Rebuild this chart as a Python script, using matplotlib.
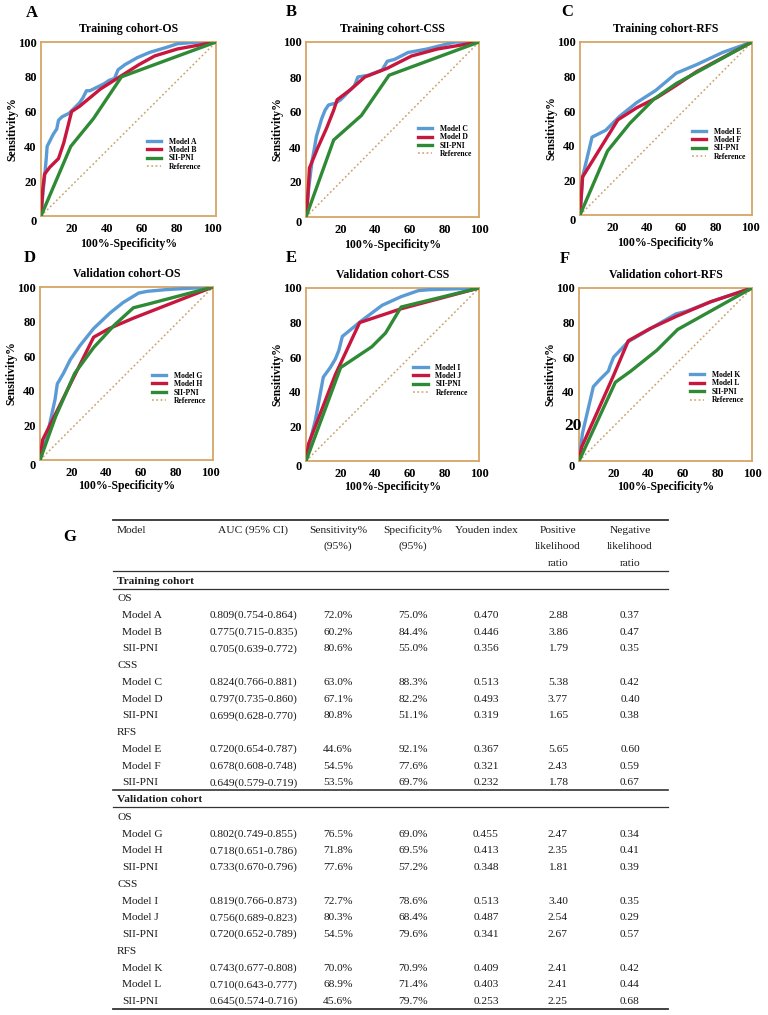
import matplotlib
matplotlib.use('Agg')
import matplotlib.pyplot as plt
from matplotlib.lines import Line2D
from matplotlib.transforms import ScaledTranslation, blended_transform_factory

plt.rcParams['font.family'] = ['Liberation Serif', 'DejaVu Serif']

# ---------------- ROC data (100%-Specificity%, Sensitivity%) ----------------
A_MODEL_A_X = [0, 1, 2, 3, 3.5, 5, 7, 9, 10, 12, 16, 19, 22, 24, 26, 28, 32, 36, 39, 42, 44, 48, 55, 62, 72, 78, 90, 100]
A_MODEL_A_Y = [0, 12, 22, 33, 40, 43, 47, 50, 55, 57, 59, 62, 65, 68, 72, 72, 74, 76, 78, 79, 84, 87, 91, 94, 97, 99, 100, 100]
A_MODEL_B_X = [0, 1, 2, 5, 10, 13, 17.5, 22, 28, 34, 45, 56, 65, 78, 100]
A_MODEL_B_Y = [0, 15, 24, 28, 33, 42, 60, 63, 68, 73, 80, 87, 92, 96, 100]
A_SII_X = [0, 17, 30, 46, 100]
A_SII_Y = [0, 40, 56, 80, 100]

B_MODEL_C_X = [0, 1.5, 2.5, 3.5, 5, 6, 7.5, 9, 11, 13, 17, 20, 24, 28, 30, 36, 44, 47, 51, 59, 70, 80, 86, 100]
B_MODEL_C_Y = [0, 16, 24, 32, 40, 46, 51, 56, 61, 64, 65, 67, 71, 75, 80, 81, 84, 89, 90, 94, 96, 98.5, 100, 100]
B_MODEL_D_X = [0, 1, 2, 7, 12, 16, 18, 26, 34, 47, 61, 76, 100]
B_MODEL_D_Y = [0, 11, 28, 40, 51, 61, 67, 73, 80, 85, 92, 96, 100]
B_SII_X = [0, 16, 32, 48, 100]
B_SII_Y = [0, 44, 58, 81, 100]

C_MODEL_E_X = [0, 1.5, 7, 15, 23, 33, 44, 56, 68, 83, 100]
C_MODEL_E_Y = [0, 22, 45, 49, 57, 65, 72, 82, 87, 94, 100]
C_MODEL_F_X = [0, 1.5, 22, 33, 45, 56, 68, 100]
C_MODEL_F_Y = [0, 22, 55, 62, 68, 75, 83, 100]
C_SII_X = [0, 16, 29, 43, 56, 100]
C_SII_Y = [0, 37, 53, 67, 76, 100]

D_MODEL_G_X = [0, 4, 8.7, 10, 13.5, 17.5, 23, 31, 40.5, 48, 57, 62, 73, 100]
D_MODEL_G_Y = [0, 13.5, 35, 44, 50, 58, 66, 76, 85, 91, 96.5, 97.5, 98.5, 100]
D_MODEL_H_X = [0, 1.5, 31, 40, 54, 100]
D_MODEL_H_Y = [0, 11.6, 71, 76, 82, 100]
D_SII_X = [0, 9, 20, 31, 43, 54, 62, 100]
D_SII_Y = [0, 25, 50, 65, 78, 88, 90, 100]

E_MODEL_I_X = [0, 2.5, 5.4, 10, 14, 17, 19, 21, 26.5, 32, 44, 55, 65, 71, 100]
E_MODEL_I_Y = [0, 12, 23.5, 48.5, 54, 59, 64, 72, 76.5, 81, 90, 95, 98.5, 99, 100]
E_MODEL_J_X = [0, 1.5, 17, 31, 55, 100]
E_MODEL_J_Y = [0, 10, 50, 80, 88, 100]
E_SII_X = [0, 20, 38, 46, 55, 100]
E_SII_Y = [0, 54, 66, 74, 89, 100]

F_MODEL_K_X = [0, 2, 8.3, 12, 17, 18, 20, 28.5, 43, 56, 62, 76, 100]
F_MODEL_K_Y = [0, 16, 43, 47, 52, 55, 60, 69, 77.5, 85, 86.5, 92, 100]
F_MODEL_L_X = [0, 1.5, 10, 20, 28.5, 41, 56, 76, 100]
F_MODEL_L_Y = [0, 8, 27, 49.5, 69.5, 76.5, 83.5, 92, 100]
F_SII_X = [0, 21, 30, 45, 57, 100]
F_SII_Y = [0, 45.5, 52, 64, 76, 100]

REF_X = [0, 100]
REF_Y = [0, 100]

TICKS = [20, 40, 60, 80, 100]

# ---------------- table data ----------------
TABLE_HEADER = [["Model"], ["AUC (95% CI)"], ["Sensitivity%", "(95%)"], ["Specificity%", "(95%)"],
                ["Youden index"], ["Positive", "likelihood", "ratio"], ["Negative", "likelihood", "ratio"]]
TRAIN_GROUPS = ["OS", "CSS", "RFS"]
TRAIN_MODELS = [["Model A", "Model B", "SII-PNI"], ["Model C", "Model D", "SII-PNI"], ["Model E", "Model F", "SII-PNI"]]
TRAIN_AUC = [["0.809(0.754-0.864)", "0.775(0.715-0.835)", "0.705(0.639-0.772)"],
             ["0.824(0.766-0.881)", "0.797(0.735-0.860)", "0.699(0.628-0.770)"],
             ["0.720(0.654-0.787)", "0.678(0.608-0.748)", "0.649(0.579-0.719)"]]
TRAIN_SENS = [["72.0%", "60.2%", "80.6%"], ["63.0%", "67.1%", "80.8%"], ["44.6%", "54.5%", "53.5%"]]
TRAIN_SPEC = [["75.0%", "84.4%", "55.0%"], ["88.3%", "82.2%", "51.1%"], ["92.1%", "77.6%", "69.7%"]]
TRAIN_YOUDEN = [["0.470", "0.446", "0.356"], ["0.513", "0.493", "0.319"], ["0.367", "0.321", "0.232"]]
TRAIN_PLR = [["2.88", "3.86", "1.79"], ["5.38", "3.77", "1.65"], ["5.65", "2.43", "1.78"]]
TRAIN_NLR = [["0.37", "0.47", "0.35"], ["0.42", "0.40", "0.38"], ["0.60", "0.59", "0.67"]]

VALID_GROUPS = ["OS", "CSS", "RFS"]
VALID_MODELS = [["Model G", "Model H", "SII-PNI"], ["Model I", "Model J", "SII-PNI"], ["Model K", "Model L", "SII-PNI"]]
VALID_AUC = [["0.802(0.749-0.855)", "0.718(0.651-0.786)", "0.733(0.670-0.796)"],
             ["0.819(0.766-0.873)", "0.756(0.689-0.823)", "0.720(0.652-0.789)"],
             ["0.743(0.677-0.808)", "0.710(0.643-0.777)", "0.645(0.574-0.716)"]]
VALID_SENS = [["76.5%", "71.8%", "77.6%"], ["72.7%", "80.3%", "54.5%"], ["70.0%", "68.9%", "45.6%"]]
VALID_SPEC = [["69.0%", "69.5%", "57.2%"], ["78.6%", "68.4%", "79.6%"], ["70.9%", "71.4%", "79.7%"]]
VALID_YOUDEN = [["0.455", "0.413", "0.348"], ["0.513", "0.487", "0.341"], ["0.409", "0.403", "0.253"]]
VALID_PLR = [["2.47", "2.35", "1.81"], ["3.40", "2.54", "2.67"], ["2.41", "2.41", "2.25"]]
VALID_NLR = [["0.34", "0.41", "0.39"], ["0.35", "0.29", "0.57"], ["0.42", "0.44", "0.68"]]

# ---------------- styles ----------------
W, H = 768, 1015
BLUE = '#5B9BD5'
RED = '#C8173F'
GREEN = '#2F8A35'
REFC = '#C9A46A'
FRAME = '#D6A566'

fig = plt.figure(figsize=(W / 100, H / 100), dpi=100)


def fx(x):
    return x / W


def fy(y):
    return 1 - y / H


panels = [
    ("A", "Training cohort-OS", (41, 42, 216, 216),
     [(A_MODEL_A_X, A_MODEL_A_Y, "Model A"), (A_MODEL_B_X, A_MODEL_B_Y, "Model B"), (A_SII_X, A_SII_Y, "SII-PNI")],
     (0.605, 0.45), (32, 13), -4),
    ("B", "Training cohort-CSS", (306, 42, 479, 217),
     [(B_MODEL_C_X, B_MODEL_C_Y, "Model C"), (B_MODEL_D_X, B_MODEL_D_Y, "Model D"), (B_SII_X, B_SII_Y, "SII-PNI")],
     (0.647, 0.526), (291, 12), 0),
    ("C", "Training cohort-RFS", (580, 42, 752, 215),
     [(C_MODEL_E_X, C_MODEL_E_Y, "Model E"), (C_MODEL_F_X, C_MODEL_F_Y, "Model F"), (C_SII_X, C_SII_Y, "SII-PNI")],
     (0.65, 0.505), (567, 12), -2),
    ("D", "Validation cohort-OS", (40, 287, 213, 460),
     [(D_MODEL_G_X, D_MODEL_G_Y, "Model G"), (D_MODEL_H_X, D_MODEL_H_Y, "Model H"), (D_SII_X, D_SII_Y, "SII-PNI")],
     (0.647, 0.51), (30, 258), -3),
    ("E", "Validation cohort-CSS", (306, 288, 479, 461),
     [(E_MODEL_I_X, E_MODEL_I_Y, "Model I"), (E_MODEL_J_X, E_MODEL_J_Y, "Model J"), (E_SII_X, E_SII_Y, "SII-PNI")],
     (0.62, 0.563), (291, 258), 0),
    ("F", "Validation cohort-RFS", (579, 288, 752, 461),
     [(F_MODEL_K_X, F_MODEL_K_Y, "Model K"), (F_MODEL_L_X, F_MODEL_L_Y, "Model L"), (F_SII_X, F_SII_Y, "SII-PNI")],
     (0.64, 0.52), (565, 259), 0),
]

colors = [BLUE, RED, GREEN]
for idx, (letter, title, (l, t, r, b), curves, leg_anchor, letter_pos, xs_px) in enumerate(panels):
    ax = fig.add_axes([fx(l), fy(b), (r - l) / W, (b - t) / H])
    ax.plot(REF_X, REF_Y, linestyle=(0, (1.2, 1.6)), color=REFC, lw=1.1, label="Reference", zorder=1)
    handles = []
    for (xs, ys, lab), c in zip(curves, colors):
        ln, = ax.plot(xs, ys, color=c, lw=2.4, label=lab, zorder=3, solid_joinstyle='round')
        handles.append(ln)
    ref_handle = Line2D([], [], linestyle=(0, (1.2, 1.6)), color=REFC, lw=1.1)
    ax.set_xlim(0, 100)
    ax.set_ylim(0, 100)
    ax.set_xticks(TICKS)
    ax.set_yticks(TICKS)
    ylabels = [str(v) for v in TICKS]
    if letter == "F":
        ylabels[0] = ""
    ax.set_xticklabels([str(v) for v in TICKS])
    ax.set_yticklabels(ylabels)
    ax.tick_params(length=0, labelsize=9, pad=3)
    ax.tick_params(axis='x', pad=5)
    for lbl in ax.get_xticklabels() + ax.get_yticklabels():
        lbl.set_fontweight('bold')
    if xs_px:
        xshift = ScaledTranslation(xs_px / 100, 0, fig.dpi_scale_trans)
        for tk in ax.xaxis.get_major_ticks():
            tk.label1.set_transform(tk.label1.get_transform() + xshift)
    for sp in ax.spines.values():
        sp.set_color(FRAME)
        sp.set_linewidth(1.3)
    ax.text(-0.04, -0.035, "0", transform=ax.transAxes, ha='center', va='center',
            fontsize=9, fontweight='bold')
    if letter == "F":
        bt = blended_transform_factory(ax.transAxes, ax.transData)
        ax.text(0.017, TICKS[0], str(TICKS[0]), transform=bt, ha='right', va='center',
                fontsize=12.5, fontweight='bold')
    ax.set_title(title, fontsize=8.5, fontweight='bold', pad=7)
    w_px = r - l
    h_px = b - t
    ax.set_ylabel("Sensitivity%", fontsize=8.5, fontweight='bold')
    ax.yaxis.set_label_coords(-23 / w_px, 0.5)
    ax.set_xlabel("100%-Specificity%", fontsize=8.5, fontweight='bold')
    ax.xaxis.set_label_coords(0.5, -(22 if idx < 3 else 20) / h_px)
    ax.legend(handles + [ref_handle], [c[2] for c in curves] + ["Reference"],
              loc='upper left', bbox_to_anchor=leg_anchor, frameon=False,
              prop={'weight': 'bold', 'size': 5.5}, handlelength=1.9,
              handletextpad=1.0, labelspacing=0.05, borderpad=0, borderaxespad=0)
    fig.text(fx(letter_pos[0]), fy(letter_pos[1]), letter, fontsize=12, fontweight='bold',
             ha='center', va='center')

# ---------------- table ----------------
TFS = 8.2
col_left_model = 117
col_left_name = 122
col_center_auc = 253.5
col_centers = [338, 413, 486, 558, 630]
x_line0, x_line1 = 113, 668


def hline(y, lw=0.9):
    fig.add_artist(Line2D([fx(x_line0), fx(x_line1)], [fy(y), fy(y)], color='#333333', lw=lw))


def txt(x, y, s, ha='left', bold=False):
    fig.text(fx(x), fy(y + 3.6), s, fontsize=TFS, ha=ha, va='baseline',
             fontweight='bold' if bold else 'normal', color='#1a1a1a')


fig.text(fx(70), fy(537), "G", fontsize=12, fontweight='bold', ha='center', va='center')

hline(519.5, 1.3)
head_y = [529, 545.5, 562]
txt(col_left_model, head_y[0], TABLE_HEADER[0][0])
txt(col_center_auc, head_y[0], TABLE_HEADER[1][0], ha='center')
for ci, hdr in enumerate(TABLE_HEADER[2:]):
    for li, s in enumerate(hdr):
        txt(col_centers[ci], head_y[li], s, ha='center')
hline(571, 0.9)

step = 16.75


def block(y_start, title, groups, models, auc, sens, spec, youd, plr, nlr):
    txt(col_left_model, y_start, title, bold=True)
    y = y_start + 17.5
    hline(y_start + 8.5, 0.9)
    for g in range(len(groups)):
        txt(col_left_model, y, groups[g])
        y += step
        for m in range(len(models[g])):
            txt(col_left_name, y, models[g][m])
            txt(col_center_auc, y, auc[g][m], ha='center')
            vals = [sens[g][m], spec[g][m], youd[g][m], plr[g][m], nlr[g][m]]
            for ci, v in enumerate(vals):
                txt(col_centers[ci], y, v, ha='center')
            y += step
    return y


y_end = block(580, "Training cohort", TRAIN_GROUPS, TRAIN_MODELS, TRAIN_AUC, TRAIN_SENS, TRAIN_SPEC,
              TRAIN_YOUDEN, TRAIN_PLR, TRAIN_NLR)
hline(y_end - step + 8.5, 1.2)
y_end2 = block(y_end - step + 17, "Validation cohort", VALID_GROUPS, VALID_MODELS, VALID_AUC, VALID_SENS,
               VALID_SPEC, VALID_YOUDEN, VALID_PLR, VALID_NLR)
hline(y_end2 - step + 8.5, 1.3)

fig.savefig("out.png", dpi=100)
